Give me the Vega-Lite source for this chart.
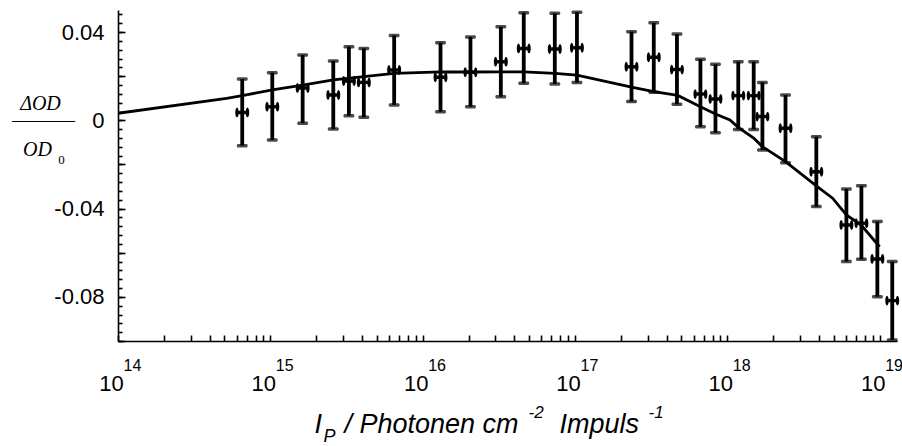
{
  "$schema": "https://vega.github.io/schema/vega-lite/v6.json",
  "width": 779,
  "height": 331,
  "autosize": {"type": "none"},
  "padding": {"left": 118, "top": 10, "right": 5, "bottom": 105},
  "background": "white",
  "config": {
    "view": {"stroke": null},
    "axis": {"grid": false, "domainColor": "black", "tickColor": "black", "labelColor": "black", "titleColor": "black", "labelFont": "Liberation Sans", "titleFont": "Liberation Sans", "titleFontWeight": "normal"}
  },
  "datasets": {
    "pts": [
      {"I": 6.54e14, "v": 0.0036, "lo": -0.0115, "hi": 0.0187},
      {"I": 1.03e15, "v": 0.0062, "lo": -0.0089, "hi": 0.0216},
      {"I": 1.63e15, "v": 0.0147, "lo": -0.0013, "hi": 0.0296},
      {"I": 2.59e15, "v": 0.0115, "lo": -0.0039, "hi": 0.0269},
      {"I": 3.28e15, "v": 0.0178, "lo": 0.0021, "hi": 0.0334},
      {"I": 4.11e15, "v": 0.0172, "lo": 0.0014, "hi": 0.0326},
      {"I": 6.50e15, "v": 0.0228, "lo": 0.0070, "hi": 0.0385},
      {"I": 1.31e16, "v": 0.0195, "lo": 0.0039, "hi": 0.0352},
      {"I": 2.06e16, "v": 0.0218, "lo": 0.0062, "hi": 0.0378},
      {"I": 3.26e16, "v": 0.0266, "lo": 0.0107, "hi": 0.0424},
      {"I": 4.61e16, "v": 0.0326, "lo": 0.0168, "hi": 0.0488},
      {"I": 7.37e16, "v": 0.0323, "lo": 0.0165, "hi": 0.0485},
      {"I": 1.03e17, "v": 0.0329, "lo": 0.0171, "hi": 0.0490},
      {"I": 2.35e17, "v": 0.0243, "lo": 0.0085, "hi": 0.0402},
      {"I": 3.29e17, "v": 0.0286, "lo": 0.0127, "hi": 0.0442},
      {"I": 4.67e17, "v": 0.0230, "lo": 0.0073, "hi": 0.0391},
      {"I": 6.66e17, "v": 0.0119, "lo": -0.0029, "hi": 0.0277},
      {"I": 8.36e17, "v": 0.0097, "lo": -0.0056, "hi": 0.0254},
      {"I": 1.18e18, "v": 0.0112, "lo": -0.0041, "hi": 0.0266},
      {"I": 1.49e18, "v": 0.0112, "lo": -0.0041, "hi": 0.0266},
      {"I": 1.70e18, "v": 0.0017, "lo": -0.0134, "hi": 0.0172},
      {"I": 2.41e18, "v": -0.0036, "lo": -0.0192, "hi": 0.0115},
      {"I": 3.84e18, "v": -0.0233, "lo": -0.0391, "hi": -0.0074},
      {"I": 6.05e18, "v": -0.0474, "lo": -0.0640, "hi": -0.0311},
      {"I": 7.59e18, "v": -0.0466, "lo": -0.0630, "hi": -0.0297},
      {"I": 9.66e18, "v": -0.0628, "lo": -0.0799, "hi": -0.0459},
      {"I": 1.21e19, "v": -0.0817, "lo": -0.0995, "hi": -0.0640}
    ],
    "fit": [
      {"I": 1e14, "v": 0.0032},
      {"I": 5.16e14, "v": 0.0100},
      {"I": 6.54e14, "v": 0.0112},
      {"I": 1.03e15, "v": 0.0138},
      {"I": 1.63e15, "v": 0.0160},
      {"I": 2.59e15, "v": 0.0183},
      {"I": 4.11e15, "v": 0.0198},
      {"I": 6.5e15, "v": 0.0213},
      {"I": 1.31e16, "v": 0.0220},
      {"I": 2.06e16, "v": 0.0219},
      {"I": 3.26e16, "v": 0.0220},
      {"I": 4.61e16, "v": 0.0220},
      {"I": 7.37e16, "v": 0.0213},
      {"I": 1.03e17, "v": 0.0205},
      {"I": 2.35e17, "v": 0.0150},
      {"I": 3.29e17, "v": 0.0130},
      {"I": 4.73e17, "v": 0.0113},
      {"I": 6.66e17, "v": 0.0062},
      {"I": 8.36e17, "v": 0.0029},
      {"I": 1.04e18, "v": 0.0002},
      {"I": 1.18e18, "v": -0.0032},
      {"I": 1.49e18, "v": -0.0081},
      {"I": 1.70e18, "v": -0.0119},
      {"I": 2.41e18, "v": -0.0187},
      {"I": 3.84e18, "v": -0.0297},
      {"I": 4.91e18, "v": -0.0353},
      {"I": 6.05e18, "v": -0.0429},
      {"I": 7.59e18, "v": -0.0476},
      {"I": 1.0e19, "v": -0.0573}
    ]
  },
  "resolve": {"axis": {"x": "independent", "y": "independent"}},
  "layer": [
    {
      "data": {"name": "fit"},
      "mark": {"type": "line", "color": "black", "strokeWidth": 2.8, "clip": true},
      "encoding": {
        "x": {
          "field": "I", "type": "quantitative",
          "scale": {"type": "log", "domain": [1e14, 1.3e19], "nice": false},
          "axis": {
            "orient": "bottom",
            "values": [1e14,1e15,1e16,1e17,1e18,1e19],
            "ticks": false, "tickSize": 0, "domainWidth": 1.6,
            "labelExpr": "'10'",
            "labelFontSize": 22, "labelOffset": -7, "labelPadding": 49, "labelBaseline": "alphabetic",
            "labelOverlap": false, "labelFlush": false,
            "title": "I\u00a0\u00a0\u00a0/ Photonen cm",
            "titleFontSize": 27, "titleFontStyle": "italic", "titleAlign": "left", "titleAnchor": "start",
            "titleX": 196, "titleY": 91, "titleBaseline": "alphabetic"
          }
        },
        "y": {
          "field": "v", "type": "quantitative",
          "scale": {"domain": [-0.1, 0.05], "nice": false, "zero": false},
          "axis": {
            "orient": "left",
            "values": [-0.08, -0.04, 0, 0.04],
            "ticks": false, "tickSize": 0, "domainWidth": 1.6,
            "labelExpr": "datum.value == 0 ? '0' : (datum.value < 0 ? '-' : '') + format(abs(datum.value), '.2f')",
            "labelFontSize": 22, "labelPadding": 14, "labelOverlap": false, "labelFlush": false,
            "title": "ΔOD", "titleFont": "Liberation Serif", "titleFontStyle": "italic", "titleFontSize": 20,
            "titleAngle": 0, "titleAlign": "center", "titleBaseline": "alphabetic", "titleX": -78, "titleY": 99
          }
        }
      }
    },
    {
      "data": {"name": "pts"},
      "mark": {"type": "rule", "color": "black", "strokeWidth": 3.8},
      "encoding": {
        "x": {
          "field": "I", "type": "quantitative",
          "scale": {"type": "log", "domain": [1e14, 1.3e19], "nice": false},
          "axis": {
            "orient": "bottom", "values": [1e14,1e15,1e16,1e17,1e18,1e19],
            "ticks": false, "tickSize": 0, "domain": false,
            "labelExpr": "'' + round(log(datum.value)/LN10)",
            "labelFontSize": 16, "labelAlign": "left", "labelOffset": 5, "labelPadding": 29, "labelBaseline": "alphabetic",
            "labelOverlap": false, "labelFlush": false,
            "title": "P", "titleFontSize": 18, "titleFontStyle": "italic", "titleAlign": "left", "titleAnchor": "start",
            "titleX": 205, "titleY": 100, "titleBaseline": "alphabetic"
          }
        },
        "y": {
          "field": "lo", "type": "quantitative",
          "scale": {"domain": [-0.1, 0.05], "nice": false, "zero": false},
          "axis": {
            "orient": "left", "values": [-0.1,-0.08,-0.06,-0.04,-0.02,0,0.02,0.04],
            "offset": -7, "ticks": true, "tickSize": 7, "tickWidth": 1.6, "domain": false, "labels": false,
            "title": "———", "titleFont": "Liberation Serif", "titleFontSize": 21,
            "titleAngle": 0, "titleAlign": "center", "titleBaseline": "alphabetic", "titleX": -82, "titleY": 116
          }
        },
        "y2": {"field": "hi"}
      }
    },
    {
      "data": {"name": "pts"},
      "mark": {"type": "tick", "orient": "horizontal", "color": "black", "size": 11, "thickness": 3.5, "cornerRadius": 1.5},
      "encoding": {
        "x": {
          "field": "I", "type": "quantitative",
          "scale": {"type": "log", "domain": [1e14, 1.3e19], "nice": false},
          "axis": {
            "orient": "bottom",
            "values": [1e14,2e14,3e14,4e14,5e14,6e14,7e14,8e14,9e14,1e15,2e15,3e15,4e15,5e15,6e15,7e15,8e15,9e15,1e16,2e16,3e16,4e16,5e16,6e16,7e16,8e16,9e16,1e17,2e17,3e17,4e17,5e17,6e17,7e17,8e17,9e17,1e18,2e18,3e18,4e18,5e18,6e18,7e18,8e18,9e18,1e19],
            "offset": -6, "ticks": true, "tickSize": 6, "tickWidth": 1.6, "domain": false, "labels": false,
            "title": "-2", "titleFontSize": 17, "titleFontStyle": "italic", "titleAlign": "left", "titleAnchor": "start",
            "titleX": 410, "titleY": 82, "titleBaseline": "alphabetic"
          }
        },
        "y": {
          "field": "lo", "type": "quantitative",
          "scale": {"domain": [-0.1, 0.05], "nice": false, "zero": false},
          "axis": {
            "orient": "left",
            "values": [-0.1,-0.096,-0.092,-0.088,-0.084,-0.08,-0.076,-0.072,-0.068,-0.064,-0.06,-0.056,-0.052,-0.048,-0.044,-0.04,-0.036,-0.032,-0.028,-0.024,-0.02,-0.016,-0.012,-0.008,-0.004,0,0.004,0.008,0.012,0.016,0.02,0.024,0.028,0.032,0.036,0.04,0.044,0.048],
            "offset": -4, "ticks": true, "tickSize": 4, "tickWidth": 1.6, "domain": false, "labels": false,
            "title": "OD", "titleFont": "Liberation Serif", "titleFontStyle": "italic", "titleFontSize": 20,
            "titleAngle": 0, "titleAlign": "center", "titleBaseline": "alphabetic", "titleX": -85, "titleY": 145
          }
        }
      }
    },
    {
      "data": {"name": "pts"},
      "mark": {"type": "tick", "orient": "horizontal", "color": "black", "size": 11, "thickness": 3.5, "cornerRadius": 1.5},
      "encoding": {
        "x": {
          "field": "I", "type": "quantitative",
          "scale": {"type": "log", "domain": [1e14, 1.3e19], "nice": false},
          "axis": {
            "orient": "bottom", "domain": false, "ticks": false, "labels": false,
            "title": "Impuls", "titleFontSize": 27, "titleFontStyle": "italic", "titleAlign": "left", "titleAnchor": "start",
            "titleX": 441, "titleY": 91, "titleBaseline": "alphabetic"
          }
        },
        "y": {
          "field": "hi", "type": "quantitative",
          "scale": {"domain": [-0.1, 0.05], "nice": false, "zero": false},
          "axis": {
            "orient": "left", "domain": false, "ticks": false, "labels": false,
            "title": "0", "titleFont": "Liberation Serif", "titleFontSize": 13,
            "titleAngle": 0, "titleAlign": "center", "titleBaseline": "alphabetic", "titleX": -57, "titleY": 153
          }
        }
      }
    },
    {
      "data": {"name": "pts"},
      "mark": {"type": "point", "shape": "M-1.2,0A0.3,0.85,0,1,1,-0.6,0A0.3,0.85,0,1,1,-1.2,0ZM0.6,0A0.3,0.85,0,1,1,1.2,0A0.3,0.85,0,1,1,0.6,0ZM-0.6,-0.3H0.6V0.3H-0.6Z", "filled": true, "color": "black", "strokeWidth": 0, "size": 135, "opacity": 1},
      "encoding": {
        "x": {
          "field": "I", "type": "quantitative",
          "scale": {"type": "log", "domain": [1e14, 1.3e19], "nice": false},
          "axis": {
            "orient": "bottom", "domain": false, "ticks": false, "labels": false,
            "title": "-1", "titleFontSize": 17, "titleFontStyle": "italic", "titleAlign": "left", "titleAnchor": "start",
            "titleX": 530, "titleY": 76, "titleBaseline": "alphabetic"
          }
        },
        "y": {
          "field": "v", "type": "quantitative",
          "scale": {"domain": [-0.1, 0.05], "nice": false, "zero": false},
          "axis": null
        }
      }
    }
  ]
}
